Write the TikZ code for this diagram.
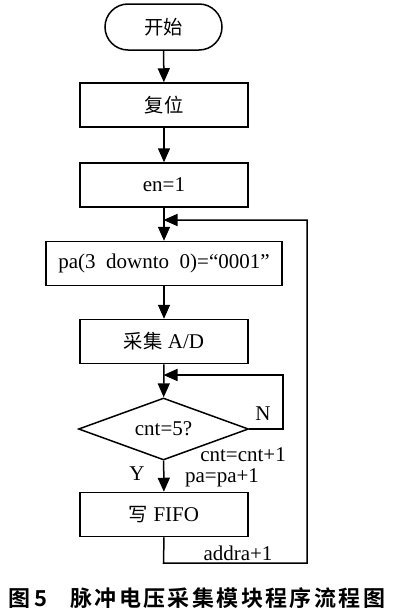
\documentclass[tikz,border=0pt]{standalone}
\usepackage{fontspec}
\setmainfont{Liberation Serif}
\newfontfamily\cjk[Scale=0.92]{Noto Sans CJK SC}
\newfontfamily\cjkb[LetterSpace=11]{Noto Sans CJK SC Bold}
\usetikzlibrary{arrows.meta,shapes.geometric}
\begin{document}
\begin{tikzpicture}[x=1pt,y=-1pt,
  every node/.style={font=\fontsize{21}{24}\selectfont, inner sep=0pt},
  arr/.style={line width=1.5pt,-{Triangle[width=12pt,length=14pt]}},
  procbox/.style={draw,line width=1.5pt,minimum width=168pt,minimum height=44pt},
  termbox/.style={draw,line width=1.5pt,minimum width=117pt,minimum height=46pt,rounded corners=23pt},
  decbox/.style={draw,line width=1.5pt,diamond,aspect=2.8,minimum width=170pt,minimum height=62pt},
  lab/.style={font=\fontsize{21}{24}\selectfont}]
\useasboundingbox (0,0) rectangle (400,613);
\node[termbox] (start) at (163.5,27) {\cjk 开始};
\node[procbox] (reset) at (164,105) {\cjk 复位};
\node[procbox] (en) at (164,185) {en=1};
\node[procbox,minimum width=236pt] (pa) at (164,263.5) {pa(3\ \ downto\ \ 0)=“0001”};
\node[procbox] (ad) at (164,341.5) {{\cjk 采集} A/D};
\node[decbox] (dec) at (163.5,429) {cnt=5?};
\node[procbox] (fifo) at (164,514.5) {{\cjk 写} FIFO};
\coordinate (j1) at (163.5,220);
\coordinate (j2) at (163.5,375);
\coordinate (nR) at (283,429);
\coordinate (nT) at (283,375);
\coordinate (fB) at (163.5,563);
\coordinate (oR) at (307,563);
\coordinate (oT) at (307,220);
\draw[arr] (start) -- (reset);
\draw[arr] (reset) -- (en);
\draw[arr] (en) -- (pa);
\draw[arr] (pa) -- (ad);
\draw[arr] (ad) -- (dec);
\draw[arr] (dec) -- (fifo);
\draw[arr] (dec.east) -- (nR) -- (nT) -- (j2);
\draw[arr] (fifo.south) -- (fB) -- (oR) -- (oT) -- (j1);
\node[lab] (N) at (263,414) {N};
\node[lab] (Y) at (137,474) {Y};
\node[lab] (c1) at (243,455) {cnt=cnt+1};
\node[lab] (c2) at (222,478) {pa=pa+1};
\node[lab] (c3) at (238,553) {addra+1};
\node[font=\fontsize{22}{26}\selectfont,anchor=west] (cap) at (8,598) {\cjkb 图\hspace{4pt}5\hspace{23pt}脉冲电压采集模块程序流程图};
\end{tikzpicture}
\end{document}
